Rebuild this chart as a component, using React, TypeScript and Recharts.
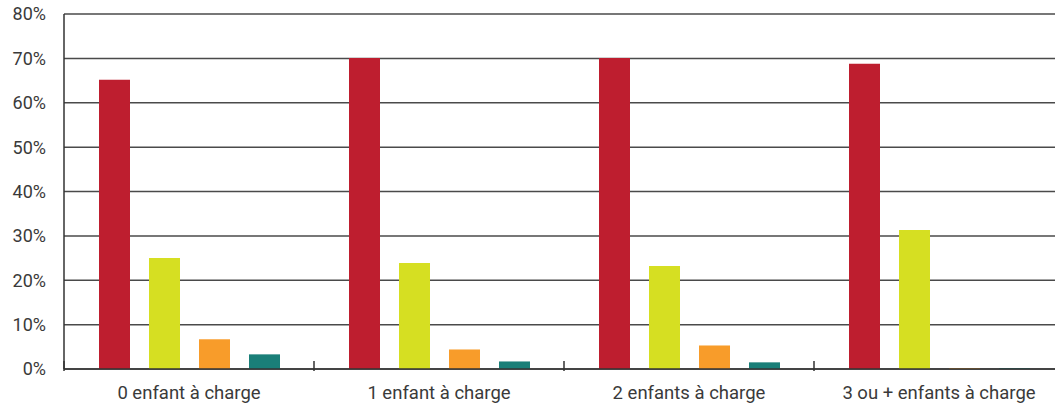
import React from "react";
import { BarChart, Bar, XAxis, YAxis, CartesianGrid } from "recharts";

const categories = ["0 enfant à charge", "1 enfant à charge", "2 enfants à charge", "3 ou + enfants à charge"];
const seriesA = [65.2, 70.1, 70.1, 68.8];
const seriesB = [25.0, 23.9, 23.2, 31.3];
const seriesC = [6.7, 4.4, 5.3, 0.2];
const seriesD = [3.3, 1.7, 1.5, 0.2];
const yTicks = [0, 10, 20, 30, 40, 50, 60, 70, 80];

const data = categories.map((c, i) => ({
  name: c,
  a: seriesA[i],
  b: seriesB[i],
  c: seriesC[i],
  d: seriesD[i],
}));

const FONT = "Roboto, 'DejaVu Sans', sans-serif";

const XTick = (props: any) => {
  const { x, y, payload } = props;
  const half = payload && payload.offset ? payload.offset : 125;
  return (
    <g>
      <line x1={x - half} x2={x - half} y1={y} y2={y - 10} stroke="#333" strokeWidth={1.5} />
      <text x={x} y={y + 28} textAnchor="middle" fill="#3a3a3a" fontSize={18.5} fontFamily={FONT}>
        {payload.value}
      </text>
    </g>
  );
};

export default function App() {
  return (
    <div style={{ position: "absolute", left: 0, top: 0, width: 1055, height: 403, overflow: "hidden", background: "#fff" }}>
      <BarChart
        width={1064}
        height={403}
        data={data}
        margin={{ top: 14, right: 0, bottom: 0, left: 0 }}
        barSize={31}
        barGap={19}
      >
        <CartesianGrid vertical={false} stroke="#4a4a4a" strokeWidth={1.5} />
        <YAxis
          type="number"
          domain={[0, 80]}
          ticks={yTicks}
          width={64}
          tickSize={0}
          tickMargin={18}
          axisLine={{ stroke: "#333", strokeWidth: 1.5 }}
          tickLine={false}
          tickFormatter={(v: number) => `${v}%`}
          tick={{ fill: "#3a3a3a", fontSize: 18, fontFamily: FONT }}
        />
        <XAxis
          dataKey="name"
          height={34}
          axisLine={{ stroke: "#333", strokeWidth: 1.5 }}
          tickLine={false}
          tickSize={0}
          interval={0}
          tick={<XTick />}
        />
        <Bar dataKey="a" fill="#be1e2f" isAnimationActive={false} />
        <Bar dataKey="b" fill="#d6df22" isAnimationActive={false} />
        <Bar dataKey="c" fill="#f89c2a" isAnimationActive={false} />
        <Bar dataKey="d" fill="#1a7f78" isAnimationActive={false} />
      </BarChart>
    </div>
  );
}
